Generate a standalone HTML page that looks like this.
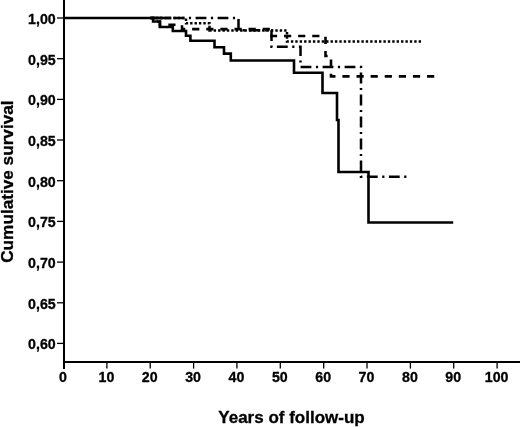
<!DOCTYPE html>
<html><head><meta charset="utf-8"><style>
html,body{margin:0;padding:0;background:#fff;}
svg{display:block;}
.t{font-family:"Liberation Sans",Arial,sans-serif;font-weight:bold;font-size:14.2px;fill:#000;stroke:#000;stroke-width:0.3px;}
.ti{font-family:"Liberation Sans",Arial,sans-serif;font-weight:bold;font-size:17px;fill:#000;stroke:#000;stroke-width:0.3px;}
</style></head><body>
<svg width="520" height="427" viewBox="0 0 520 427">
<rect x="0" y="0" width="520" height="427" fill="#fff"/>
<rect x="63" y="0" width="2" height="369" fill="#000"/>
<rect x="63" y="361" width="457" height="2" fill="#000"/>
<line x1="57" y1="18.0" x2="63" y2="18.0" stroke="#000" stroke-width="1.3"/>
<text x="55.7" y="24.0" text-anchor="end" class="t">1,00</text>
<line x1="57" y1="58.7" x2="63" y2="58.7" stroke="#000" stroke-width="1.3"/>
<text x="55.7" y="64.7" text-anchor="end" class="t">0,95</text>
<line x1="57" y1="99.4" x2="63" y2="99.4" stroke="#000" stroke-width="1.3"/>
<text x="55.7" y="105.4" text-anchor="end" class="t">0,90</text>
<line x1="57" y1="140.0" x2="63" y2="140.0" stroke="#000" stroke-width="1.3"/>
<text x="55.7" y="146.0" text-anchor="end" class="t">0,85</text>
<line x1="57" y1="180.7" x2="63" y2="180.7" stroke="#000" stroke-width="1.3"/>
<text x="55.7" y="186.7" text-anchor="end" class="t">0,80</text>
<line x1="57" y1="221.4" x2="63" y2="221.4" stroke="#000" stroke-width="1.3"/>
<text x="55.7" y="227.4" text-anchor="end" class="t">0,75</text>
<line x1="57" y1="262.1" x2="63" y2="262.1" stroke="#000" stroke-width="1.3"/>
<text x="55.7" y="268.1" text-anchor="end" class="t">0,70</text>
<line x1="57" y1="302.8" x2="63" y2="302.8" stroke="#000" stroke-width="1.3"/>
<text x="55.7" y="308.8" text-anchor="end" class="t">0,65</text>
<line x1="57" y1="343.4" x2="63" y2="343.4" stroke="#000" stroke-width="1.3"/>
<text x="55.7" y="349.4" text-anchor="end" class="t">0,60</text>
<line x1="106.9" y1="362" x2="106.9" y2="368.6" stroke="#000" stroke-width="1.3"/>
<line x1="150.2" y1="362" x2="150.2" y2="368.6" stroke="#000" stroke-width="1.3"/>
<line x1="193.6" y1="362" x2="193.6" y2="368.6" stroke="#000" stroke-width="1.3"/>
<line x1="236.9" y1="362" x2="236.9" y2="368.6" stroke="#000" stroke-width="1.3"/>
<line x1="280.3" y1="362" x2="280.3" y2="368.6" stroke="#000" stroke-width="1.3"/>
<line x1="323.7" y1="362" x2="323.7" y2="368.6" stroke="#000" stroke-width="1.3"/>
<line x1="367.0" y1="362" x2="367.0" y2="368.6" stroke="#000" stroke-width="1.3"/>
<line x1="410.4" y1="362" x2="410.4" y2="368.6" stroke="#000" stroke-width="1.3"/>
<line x1="453.7" y1="362" x2="453.7" y2="368.6" stroke="#000" stroke-width="1.3"/>
<line x1="497.1" y1="362" x2="497.1" y2="368.6" stroke="#000" stroke-width="1.3"/>
<text x="63.0" y="382.2" text-anchor="middle" class="t">0</text>
<text x="106.4" y="382.2" text-anchor="middle" class="t">10</text>
<text x="149.7" y="382.2" text-anchor="middle" class="t">20</text>
<text x="193.1" y="382.2" text-anchor="middle" class="t">30</text>
<text x="236.4" y="382.2" text-anchor="middle" class="t">40</text>
<text x="279.8" y="382.2" text-anchor="middle" class="t">50</text>
<text x="323.2" y="382.2" text-anchor="middle" class="t">60</text>
<text x="366.5" y="382.2" text-anchor="middle" class="t">70</text>
<text x="409.9" y="382.2" text-anchor="middle" class="t">80</text>
<text x="453.2" y="382.2" text-anchor="middle" class="t">90</text>
<text x="496.6" y="382.2" text-anchor="middle" class="t">100</text>
<text x="291.5" y="422.5" text-anchor="middle" class="ti">Years of follow-up</text>
<text transform="translate(13.3,181.6) rotate(-90)" text-anchor="middle" class="ti" style="font-size:17.2px">Cumulative survival</text>
<path d="M150,18 H153 V21.7 H160 V24.7 H182 V29.1 H271.5 V36 H325.5 V56 H331 V76.4 H435" fill="none" stroke="#000" stroke-width="2.6" stroke-dasharray="7.2 6.91" stroke-dashoffset="3.2"/>
<path d="M150,18 H186 V23.2 H209.5 V30.5 H287 V41.4 H421.5" fill="none" stroke="#000" stroke-width="2.5" stroke-dasharray="2.4 2.006" stroke-dashoffset="3.156"/>
<path d="M150,18 H238.5 V30.2 H271.5 V46.7 H300.5 V67 H361 V176.7 H407" fill="none" stroke="#000" stroke-width="2.5" stroke-dasharray="10.8 4.5 2.2 4.5" stroke-dashoffset="20.4"/>
<line x1="150" y1="18" x2="171.2" y2="18" stroke="#000" stroke-width="2.6"/>
<path d="M64,18 H153.1 V21.5 H159.8 V27 H172.8 V31.0 H186.0 V35.8 H190.4 V40.8 H214.5 V47.3 H224 V53.6 H230.8 V60.5 H294 V72.8 H322.5 V93 H337 V120 H338.5 V172 H368.5 V222.5 H453.2" fill="none" stroke="#000" stroke-width="2.6"/>
</svg>
</body></html>
